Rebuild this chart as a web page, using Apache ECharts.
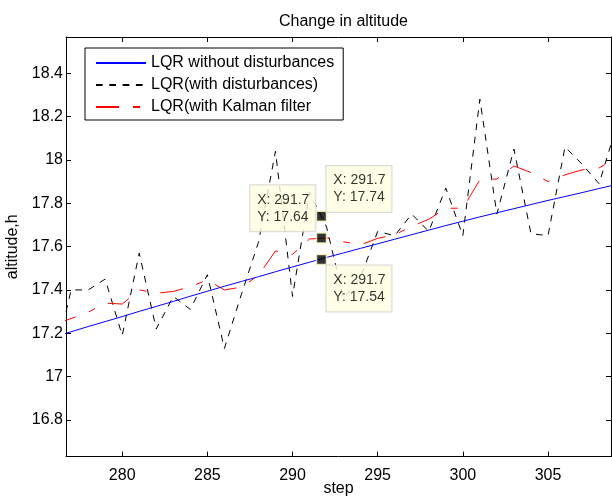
<!DOCTYPE html>
<html>
<head>
<meta charset="utf-8">
<script src="https://cdn.jsdelivr.net/npm/echarts@6.0.0/dist/echarts.min.js"></script>
<style>
html,body{margin:0;padding:0;background:#fff;}
#c{width:612px;height:497px;}
</style>
</head>
<body>
<div id="c"></div>
<script>
// ---- data ----
const steps = [276,277,278,279,280,281,282,283,284,285,286,287,288,289,290,291,292,293,294,295,296,297,298,299,300,301,302,303,304,305,306,307,308,309];
const lqrNoDist = [17.183,17.207,17.231,17.254,17.277,17.301,17.324,17.347,17.371,17.394,17.417,17.439,17.461,17.484,17.506,17.528,17.550,17.571,17.592,17.613,17.634,17.655,17.676,17.697,17.717,17.737,17.756,17.775,17.794,17.813,17.831,17.849,17.868,17.886];
const lqrDist = [17.06,17.40,17.40,17.45,17.19,17.57,17.22,17.37,17.31,17.47,17.13,17.38,17.62,18.04,17.37,17.85,17.69,17.36,17.46,17.67,17.65,17.75,17.67,17.87,17.65,18.28,17.75,18.05,17.66,17.65,18.06,17.98,17.89,18.15];
const lqrKalman = [17.241,17.268,17.297,17.339,17.335,17.400,17.385,17.393,17.415,17.446,17.400,17.413,17.467,17.580,17.564,17.635,17.640,17.622,17.608,17.638,17.654,17.694,17.726,17.777,17.777,17.908,17.912,17.972,17.942,17.900,17.931,17.954,17.963,18.009];
const seriesNames = ['LQR without disturbances','LQR(with disturbances)','LQR(with Kalman filter'];
const xTicks = [280,285,290,295,300,305];
const yTicks = [16.8,17,17.2,17.4,17.6,17.8,18,18.2,18.4];
const tipX = 291.7;
const tipYs = [17.74, 17.64, 17.54];

// ---- chart ----
const FONT = "'Liberation Sans', Arial, Helvetica, sans-serif";
const chart = echarts.init(document.getElementById('c'), null, {renderer: 'canvas'});
const pairs = ys => steps.map((x, i) => [x, ys[i]]);
const xMin = 276.7, xMax = 308.7, yMin = 16.631, yMax = 18.567;

const tipLabelBase = {
  show: true,
  formatter: p => 'X: ' + p.value[0] + '\nY: ' + p.value[1].toFixed(2),
  fontFamily: FONT, fontSize: 14, lineHeight: 17, color: '#000',
  backgroundColor: '#ffffe1', borderColor: '#cfcfcf', borderWidth: 1,
  padding: [6, 6, 6, 7], align: 'left', verticalAlign: 'top'
};
const tipPositions = [[10.6, -44.5], [-65.5, -47], [10.6, 11.7]];

const baseAxisLine = {show: true, onZero: false, lineStyle: {color: '#000', width: 1}};

const option = {
  animation: false,
  backgroundColor: '#fff',
  textStyle: {fontFamily: FONT},
  title: {
    text: 'Change in altitude',
    left: 338.5, top: 9, textAlign: 'center',
    textStyle: {fontSize: 16, fontWeight: 'normal', color: '#000', fontFamily: FONT}
  },
  grid: {left: 66, right: 1, top: 37, bottom: 40.4, outerBoundsMode: 'none', containLabel: false},
  legend: {
    orient: 'vertical', left: 85, top: 48,
    padding: [7, 9, 5, 10], itemGap: 6, itemWidth: 50, itemHeight: 16,
    borderColor: '#000', borderWidth: 1, backgroundColor: '#fff',
    selectedMode: false,
    itemStyle: {color: 'transparent', borderColor: 'transparent', borderWidth: 0, opacity: 0},
    textStyle: {fontSize: 16, color: '#000', fontFamily: FONT, lineHeight: 16},
    data: seriesNames
  },
  xAxis: [
    {
      type: 'value', min: xMin, max: xMax, position: 'bottom',
      axisLine: baseAxisLine,
      axisTick: {show: true, inside: true, length: 5, customValues: xTicks, lineStyle: {color: '#000'}},
      axisLabel: {customValues: xTicks, margin: 11, color: '#000', fontSize: 16, fontFamily: FONT},
      splitLine: {show: false},
      name: 'step', nameLocation: 'middle', nameGap: 24, nameMoveOverlap: false,
      nameTextStyle: {fontSize: 16, color: '#000', fontFamily: FONT}
    },
    {
      type: 'value', min: xMin, max: xMax, position: 'top',
      axisLine: baseAxisLine,
      axisTick: {show: true, inside: true, length: 5, customValues: xTicks, lineStyle: {color: '#000'}},
      axisLabel: {show: false},
      splitLine: {show: false}
    }
  ],
  yAxis: [
    {
      type: 'value', min: yMin, max: yMax, position: 'left',
      axisLine: baseAxisLine,
      axisTick: {show: true, inside: true, length: 5, customValues: yTicks, lineStyle: {color: '#000'}},
      axisLabel: {customValues: yTicks, margin: 3, color: '#000', fontSize: 16, fontFamily: FONT,
                  formatter: v => String(Math.round(v * 10) / 10)},
      splitLine: {show: false},
      name: 'altitude,h', nameLocation: 'middle', nameGap: 45, nameRotate: 90, nameMoveOverlap: false,
      nameTextStyle: {fontSize: 16, color: '#000', fontFamily: FONT}
    },
    {
      type: 'value', min: yMin, max: yMax, position: 'right',
      axisLine: baseAxisLine,
      axisTick: {show: true, inside: true, length: 5, customValues: yTicks, lineStyle: {color: '#000'}},
      axisLabel: {show: false},
      splitLine: {show: false}
    }
  ],
  series: [
    {
      name: seriesNames[1], type: 'line', data: pairs(lqrDist),
      symbol: 'none', clip: true,
      lineStyle: {color: '#000', width: 1, type: [6.7, 6.6]},
      itemStyle: {color: '#000'}, z: 2
    },
    {
      name: seriesNames[2], type: 'line', data: pairs(lqrKalman),
      symbol: 'none', clip: true,
      lineStyle: {color: '#ff0000', width: 1, type: [23, 14, 7, 14]},
      itemStyle: {color: '#ff0000'}, z: 3
    },
    {
      name: seriesNames[0], type: 'line', data: pairs(lqrNoDist),
      symbol: 'none', clip: true,
      lineStyle: {color: '#0000ff', width: 1, type: 'solid'},
      itemStyle: {color: '#0000ff'}, z: 4
    },
    {
      type: 'scatter', z: 10,
      symbol: 'rect', symbolSize: 10,
      itemStyle: {color: '#000', borderColor: '#ffffc8', borderWidth: 1.5},
      data: tipYs.map((y, i) => ({
        value: [tipX, y],
        label: Object.assign({}, tipLabelBase, {position: tipPositions[i]})
      })),
      label: tipLabelBase
    }
  ]
};
chart.setOption(option);
</script>
</body>
</html>
